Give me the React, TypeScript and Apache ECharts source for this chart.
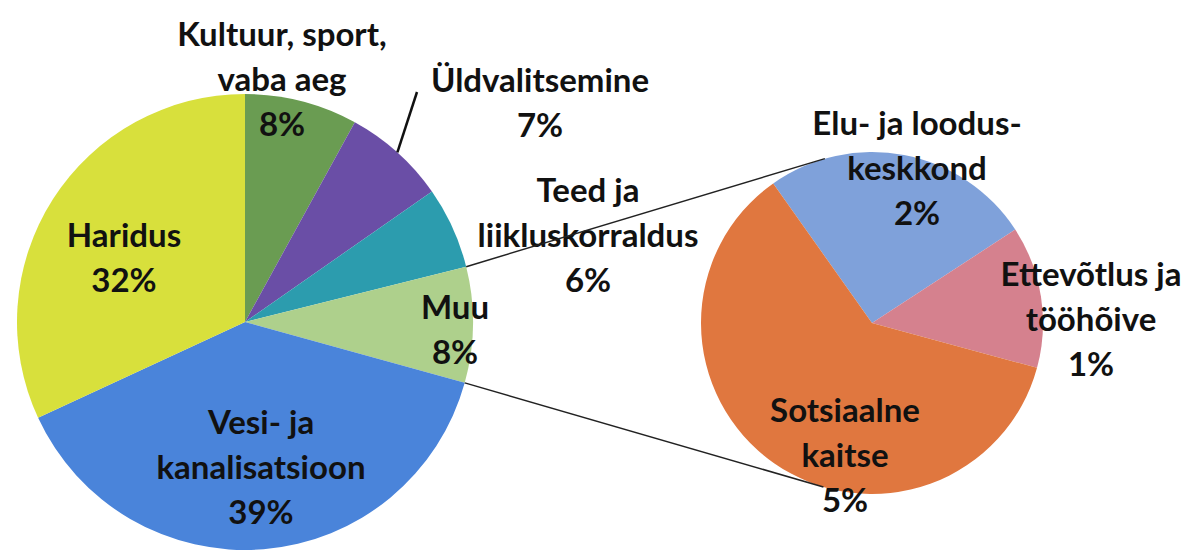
import React, { useEffect, useRef } from "react";
import * as echarts from "echarts";

// Main pie (share of total, %)
const mainNames = [
  "Kultuur, sport,\nvaba aeg",
  "Üldvalitsemine",
  "Teed ja\nliikluskorraldus",
  "Muu",
  "Vesi- ja\nkanalisatsioon",
  "Haridus",
];
const mainValues = [8.0, 7.3, 5.8, 8.2, 38.8, 31.9];
const mainColors = ["#6a9c52", "#6a4ea6", "#2c9cae", "#aed08c", "#4a84da", "#d8e03c"];

// Secondary pie: breakdown of "Muu" (share of total, %)
const subNames = ["Elu- ja loodus-\nkeskkond", "Ettevõtlus ja\ntööhõive", "Sotsiaalne\nkaitse"];
const subValues = [2.1, 1.1, 5.0];
const subColors = ["#7fa1da", "#d5818e", "#e0773f"];

// Layout
const MAIN_C = [245, 322];
const MAIN_R = 228;
const SUB_C = [872, 323];
const SUB_R = 171;
const SUB_START = 125.3; // echarts degrees
const mainLabelPos = [
  [282, 78],
  [540, 101],
  [588, 234],
  [455, 328],
  [261, 466],
  [124, 256],
];
const subLabelPos = [
  [917, 167],
  [1091, 318],
  [845, 454],
];

const FONT = "Lato, 'Open Sans', sans-serif";

function pt(c: number[], r: number, degFromTop: number) {
  const a = (degFromTop * Math.PI) / 180;
  return [c[0] + r * Math.sin(a), c[1] - r * Math.cos(a)];
}

export default function App() {
  const ref = useRef<HTMLDivElement>(null);
  useEffect(() => {
    if (!ref.current) return;
    const chart = echarts.init(ref.current, undefined, { renderer: "svg" });
    const total = mainValues.reduce((a, b) => a + b, 0);
    const muuIdx = 3;
    let cum = 0;
    for (let i = 0; i < muuIdx; i++) cum += mainValues[i];
    const muuStart = (cum / total) * 360;
    const muuEnd = ((cum + mainValues[muuIdx]) / total) * 360;
    const uldMid = ((mainValues[0] + mainValues[1] / 2) / total) * 360;

    const p1 = pt(MAIN_C, MAIN_R, muuStart);
    const p2 = pt(MAIN_C, MAIN_R, muuEnd);
    const q1 = pt(SUB_C, SUB_R, -16);
    const q2 = pt(SUB_C, SUB_R, 196.5);
    const u1 = pt(MAIN_C, MAIN_R, uldMid);

    const labelStyle = {
      show: true,
      position: "inside" as const,
      overflow: "none" as const,
      color: "#111",
      fontFamily: FONT,
      fontWeight: "bold" as const,
      fontSize: 33,
      lineHeight: 45,
      align: "center" as const,
    };

    chart.setOption({
      animation: false,
      backgroundColor: "#ffffff",
      series: [
        {
          type: "pie",
          center: MAIN_C,
          radius: MAIN_R,
          startAngle: 90,
          clockwise: true,
          silent: true,
          avoidLabelOverlap: false,
          data: mainNames.map((n, i) => ({
            name: n,
            value: mainValues[i],
            itemStyle: { color: mainColors[i] },
          })),
          label: {
            ...labelStyle,
            formatter: (p: any) => `${p.name}\n${Math.round(p.value)}%`,
          },
          labelLine: { show: false },
          labelLayout: (p: any) => ({
            x: mainLabelPos[p.dataIndex][0],
            y: mainLabelPos[p.dataIndex][1],
            align: "center",
            verticalAlign: "middle",
            hideOverlap: false,
          }),
        },
        {
          type: "pie",
          center: SUB_C,
          radius: SUB_R,
          startAngle: SUB_START,
          clockwise: true,
          silent: true,
          avoidLabelOverlap: false,
          data: subNames.map((n, i) => ({
            name: n,
            value: subValues[i],
            itemStyle: { color: subColors[i] },
          })),
          label: {
            ...labelStyle,
            formatter: (p: any) => `${p.name}\n${Math.round(p.value)}%`,
          },
          labelLine: { show: false },
          labelLayout: (p: any) => ({
            x: subLabelPos[p.dataIndex][0],
            y: subLabelPos[p.dataIndex][1],
            align: "center",
            verticalAlign: "middle",
            hideOverlap: false,
          }),
        },
      ],
      graphic: [
        {
          type: "line",
          z: 100,
          shape: { x1: p1[0], y1: p1[1], x2: q1[0], y2: q1[1] },
          style: { stroke: "#222", lineWidth: 1.5 },
        },
        {
          type: "line",
          z: 100,
          shape: { x1: p2[0], y1: p2[1], x2: q2[0], y2: q2[1] },
          style: { stroke: "#222", lineWidth: 1.5 },
        },
        {
          type: "line",
          z: 100,
          shape: { x1: u1[0], y1: u1[1], x2: 417, y2: 92 },
          style: { stroke: "#111", lineWidth: 2.5 },
        },
      ],
    });
    return () => chart.dispose();
  }, []);
  return (
    <div
      ref={ref}
      style={{ position: "fixed", left: 0, top: 0, width: 1192, height: 550, background: "#fff" }}
    />
  );
}
